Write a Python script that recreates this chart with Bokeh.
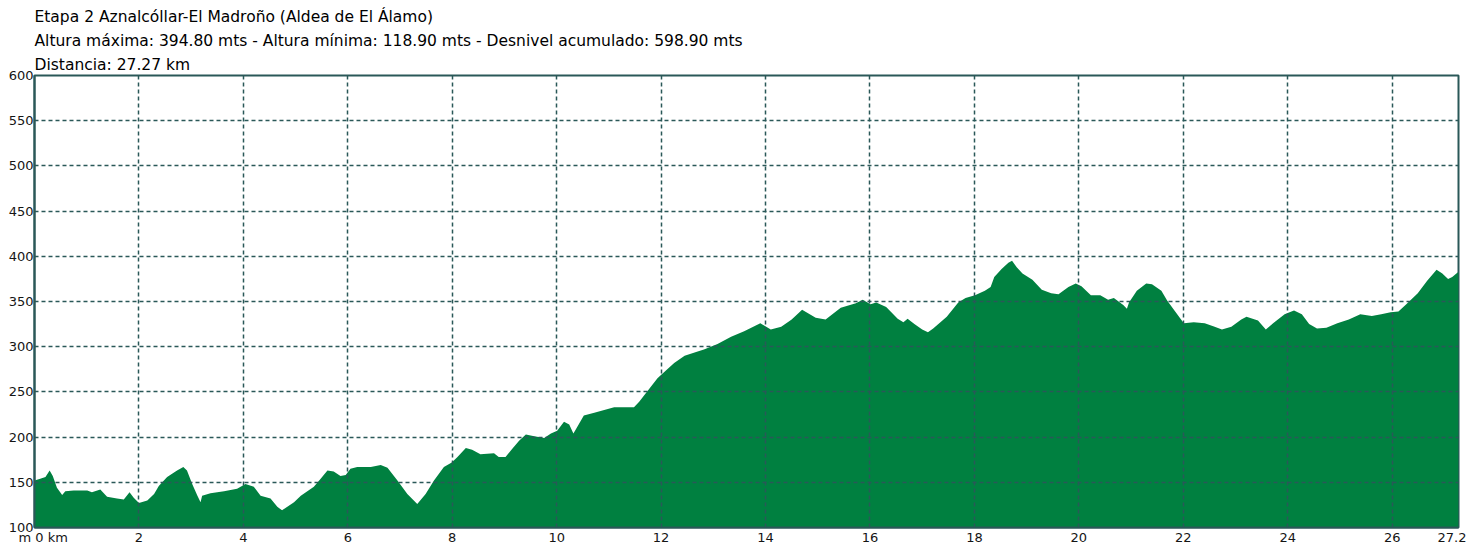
from bokeh.plotting import figure
from bokeh.models import ColumnDataSource, FixedTicker, Range1d, Title
from bokeh.embed import file_html
from bokeh.resources import INLINE

# ---------------- data ----------------
title_lines = [
    "Etapa 2 Aznalcóllar-El Madroño (Aldea de El Álamo)",
    "Altura máxima: 394.80 mts - Altura mínima: 118.90 mts - Desnivel acumulado: 598.90 mts",
    "Distancia: 27.27 km",
]

km = [0, 0.11, 0.21, 0.29, 0.35, 0.43, 0.53, 0.59, 0.75, 1.01, 1.1, 1.26, 1.39, 1.58, 1.71,
      1.82, 1.9, 2.0, 2.16, 2.29, 2.38, 2.54, 2.73, 2.85, 2.92, 3.02, 3.12, 3.18, 3.21, 3.37,
      3.63, 3.88, 4.04, 4.2, 4.33, 4.52, 4.65, 4.74, 4.97, 5.1, 5.35, 5.48, 5.61, 5.73, 5.86,
      5.96, 6.05, 6.18, 6.44, 6.63, 6.76, 6.95, 7.14, 7.33, 7.49, 7.65, 7.84, 7.99, 8.1, 8.26,
      8.38, 8.54, 8.8, 8.89, 9.02, 9.15, 9.28, 9.41, 9.57, 9.76, 9.89, 10.01, 10.14, 10.24,
      10.32, 10.39, 10.52, 10.72, 10.91, 11.1, 11.48, 11.58, 11.74, 11.93, 12.06, 12.25, 12.45,
      12.67, 12.82, 13.08, 13.34, 13.59, 13.9, 14.1, 14.3, 14.5, 14.7, 14.96, 15.15, 15.44,
      15.73, 15.86, 16.01, 16.12, 16.31, 16.53, 16.64, 16.72, 16.85, 17.0, 17.11, 17.21, 17.47,
      17.69, 17.83, 18.01, 18.2, 18.31, 18.38, 18.52, 18.65, 18.72, 18.81, 18.92, 19.11, 19.29,
      19.47, 19.61, 19.8, 19.94, 20.05, 20.23, 20.41, 20.56, 20.67, 20.85, 20.92, 20.96, 21.11,
      21.29, 21.4, 21.58, 21.69, 21.83, 22.01, 22.2, 22.41, 22.6, 22.74, 22.92, 23.11, 23.21,
      23.43, 23.58, 23.72, 23.94, 24.12, 24.27, 24.41, 24.56, 24.74, 24.95, 25.17, 25.39, 25.61,
      25.79, 25.97, 26.12, 26.27, 26.49, 26.67, 26.85, 26.96, 27.07, 27.15, 27.27]

elev = [152, 154, 156, 163, 157, 144, 136, 140, 141, 141, 139, 142, 134, 132, 131,
        139, 133, 127, 130, 137, 146, 156, 163, 167, 163, 148, 135, 128, 135, 138,
        140, 143, 148, 145, 135, 132, 123, 119, 128, 135, 145, 154, 163, 162, 157,
        158, 165, 167, 167, 169, 166, 152, 137, 126, 137, 152, 167, 172, 178, 188,
        186, 181, 182, 178, 178, 187, 196, 203, 201, 199, 204, 207, 217, 214,
        204, 211, 224, 227, 230, 233, 233, 239, 251, 265, 272, 282, 290,
        294, 297, 303, 311, 317, 326, 319, 322, 330, 341, 332, 330, 343,
        348, 352, 347, 349, 344, 331, 327, 331, 325, 319, 316, 320, 333,
        349, 354, 357, 362, 366, 377, 386, 393, 395, 388, 381, 374, 363,
        359, 358, 366, 370, 367, 357, 357, 352, 354, 346, 342, 349, 362,
        370, 369, 362, 351, 340, 326, 327, 326, 322, 319, 322, 330, 333,
        329, 319, 326, 336, 340, 336, 325, 320, 321, 326, 330, 336, 334,
        336, 338, 339, 347, 359, 373, 385, 381, 375, 377, 383]

total_km = 27.27
y_ticks = [100, 150, 200, 250, 300, 350, 400, 450, 500, 550, 600]
x_ticks = [2, 4, 6, 8, 10, 12, 14, 16, 18, 20, 22, 24, 26]
first_x_label = "m 0 km"
last_x_label = "27.2"

# ---------------- styles ----------------
GREEN = "#008040"
TEAL = "#2a5858"
TXT = "#151515"
FONT = "DejaVu Sans"
PX_PER_KM = 1424 / total_km           # frame width / range, used for label nudges
first_pos = 8.7 / PX_PER_KM            # "m 0 km" sits a little right of 0
last_pos = total_km - 6.5 / PX_PER_KM  # "27.2" sits a little left of the end

p = figure(width=1466, height=547, x_range=Range1d(0, total_km), y_range=Range1d(100, 600),
           output_backend="svg", toolbar_location=None,
           min_border_left=34, min_border_right=8, min_border_top=75, min_border_bottom=18,
           background_fill_color="white", border_fill_color="white",
           outline_line_color=TEAL, outline_line_width=2)

src = ColumnDataSource(dict(km=km, elev=elev))
p.varea(x="km", y1=0, y2="elev", source=src, fill_color=GREEN)

# ---- titles (line 1 is the plot title, outermost; lines 2-3 stacked toward the frame)
def style_title(t):
    t.align = "left"
    t.offset = 0
    t.standoff = 4
    t.text_font = FONT
    t.text_font_size = "15.5px"
    t.text_font_style = "normal"
    t.text_color = "black"

p.title.text = title_lines[0]
style_title(p.title)
for line in [title_lines[2], title_lines[1]]:
    t = Title(text=line)
    style_title(t)
    p.add_layout(t, "above")

# ---- axes
for ax in (p.xaxis[0], p.yaxis[0]):
    ax.major_tick_out = 0
    ax.major_tick_in = 0
    ax.minor_tick_out = 0
    ax.minor_tick_in = 0
    ax.axis_line_color = TEAL
    ax.axis_line_width = 2
    ax.major_label_text_font = FONT
    ax.major_label_text_font_size = "13px"
    ax.major_label_text_color = TXT

p.yaxis.ticker = FixedTicker(ticks=y_ticks)
p.yaxis.major_label_standoff = 1

xlab_ticks = [first_pos] + x_ticks + [last_pos]
p.xaxis.ticker = FixedTicker(ticks=xlab_ticks)
p.xaxis.major_label_overrides = {first_pos: first_x_label, last_pos: last_x_label}
p.xaxis.major_label_standoff = 2

# ---- grid drawn over the fill
p.xgrid.ticker = FixedTicker(ticks=x_ticks)
p.ygrid.ticker = FixedTicker(ticks=y_ticks[1:-1])
for g in (p.xgrid[0], p.ygrid[0]):
    g.grid_line_color = TEAL
    g.grid_line_dash = "4 3"
    g.grid_line_width = 1.5
    g.level = "guide"

open("out.html", "w").write(file_html(p, INLINE))
